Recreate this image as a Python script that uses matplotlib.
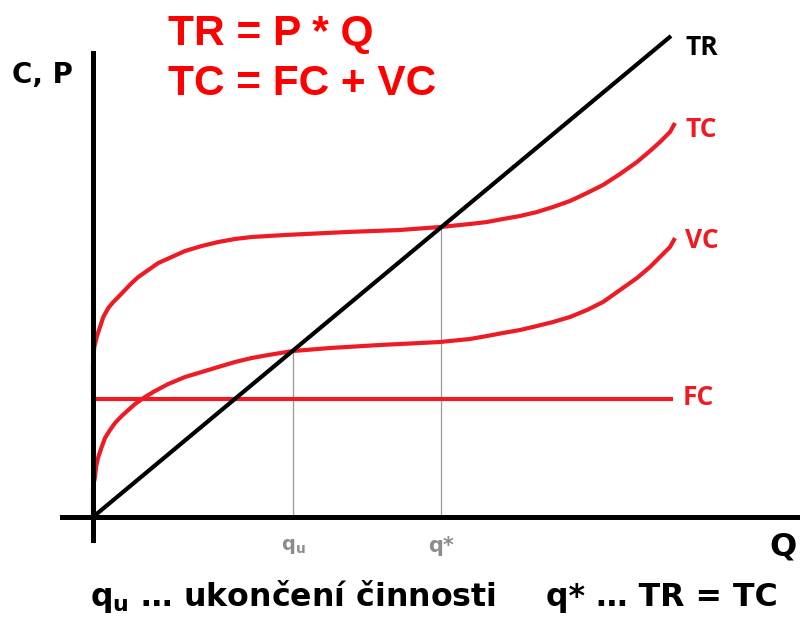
import numpy as np
import matplotlib
matplotlib.use("Agg")
import matplotlib.pyplot as plt

plt.rcParams['mathtext.fontset'] = 'dejavusans'

# values (Q and cost in the same arbitrary units)
tr_q = [0, 57.8]
tr_c = [0, 48.1]

fc_q = [0, 58.0]
fc_c = [11.8, 11.8]

vc_q = [0, 0, 0.2, 0.3, 0.53, 0.87, 1.2, 1.7, 2.2, 2.87, 3.53, 4.2, 5.2, 6.2, 7.53,
        9.2, 10.87, 12.53, 14.2, 15.87, 17.53, 20.0, 23.7, 28.7, 34.7, 37.7, 39.4,
        41.0, 42.7, 44.4, 46.0, 47.7, 49.4, 51.0, 52.7, 54.4, 55.7, 56.7, 57.7, 58.2]
vc_c = [0, 3.0, 4.0, 5.0, 6.0, 7.0, 7.9, 8.7, 9.4, 10.1, 10.7, 11.3, 12.0, 12.6, 13.3,
        14.0, 14.5, 15.0, 15.5, 15.9, 16.2, 16.6, 16.9, 17.2, 17.5, 17.8, 18.1,
        18.4, 18.7, 19.1, 19.5, 20.0, 20.7, 21.5, 22.7, 23.9, 25.0, 26.0, 27.0, 27.9]

tc_q = [0, 0, 0.13, 0.37, 0.7, 1.03, 1.53, 2.03, 2.53, 3.2, 3.87, 4.53, 5.53, 6.53,
        7.87, 9.2, 10.87, 12.53, 14.2, 15.87, 17.53, 19.2, 25.4, 30.7, 34.7, 37.7,
        39.4, 41.0, 42.7, 44.4, 46.0, 47.7, 49.4, 51.0, 52.7, 54.4, 55.7, 56.7, 57.7, 58.2]
tc_c = [11.8, 15.4, 17.0, 18.0, 19.0, 20.0, 20.9, 21.5, 22.0, 22.7, 23.4, 24.0, 24.7, 25.4,
        26.0, 26.6, 27.1, 27.5, 27.8, 28.0, 28.1, 28.2, 28.5, 28.7, 29.0, 29.3,
        29.5, 29.8, 30.1, 30.5, 31.0, 31.6, 32.4, 33.2, 34.3, 35.5, 36.6, 37.5, 38.5, 39.4]

q_u = 20.0
q_star = 34.8

red = '#ED1C24'
grey = '#999999'

fig = plt.figure(figsize=(8, 6.22), dpi=100)
ax = fig.add_axes([0, 0, 1, 1])
ax.set_xlim(-9.3, 70.7)
ax.set_ylim(-10.5, 51.7)

# axes through the origin
ax.spines['left'].set_position(('data', 0))
ax.spines['bottom'].set_position(('data', 0))
ax.spines['left'].set_bounds(-2.3, 46.4)
ax.spines['bottom'].set_bounds(-3.1, 70.7)
for s in ['left', 'bottom']:
    ax.spines[s].set_linewidth(3.6)
    ax.spines[s].set_color('black')
ax.spines['top'].set_visible(False)
ax.spines['right'].set_visible(False)
ax.set_xticks([])
ax.set_yticks([])

# helper lines down to the axis
for q in [q_u, q_star]:
    ax.vlines(q, 0, np.interp(q, tr_q, tr_c), color=grey, lw=0.9, zorder=1)

ln = dict(lw=3.0, solid_joinstyle='round', solid_capstyle='butt')
ax.plot(fc_q, fc_c, color=red, zorder=2, **ln)
ax.plot(vc_q, vc_c, color=red, zorder=2, **ln)
ax.plot(tc_q, tc_c, color=red, zorder=2, **ln)
ax.plot(tr_q, tr_c, color='black', zorder=3, **ln)

lab = dict(fontfamily='Open Sans', fontweight='bold', ha='left', va='baseline')
ax.text(59.2, 46.2, 'TR', color='black', fontsize=19, **lab)
ax.text(59.2, 38.0, 'TC', color=red, fontsize=19, **lab)
ax.text(59.2, 26.9, 'VC', color=red, fontsize=19, **lab)
ax.text(59.0, 11.2, 'FC', color=red, fontsize=19, **lab)

big = dict(fontfamily='DejaVu Sans', fontweight='bold', ha='left', va='baseline')
ax.text(-8.1, 43.4, 'C, P', color='black', fontsize=20, **big)
ax.text(67.6, -3.8, 'Q', color='black', fontsize=23, **big)

ax.text(q_u, -2.9, r'q$_\mathbf{u}$', color='#8c8c8c', fontsize=14,
        fontfamily='DejaVu Sans', fontweight='bold', ha='center', va='center')
ax.text(q_star, -2.9, 'q*', color='#8c8c8c', fontsize=15,
        fontfamily='DejaVu Sans', fontweight='bold', ha='center', va='center')

ax.text(7.5, 47.2, 'TR = P * Q', color='#FF0000', fontsize=30.5,
        fontfamily='Liberation Sans', fontweight='bold', va='baseline')
ax.text(7.5, 42.2, 'TC = FC + VC', color='#FF0000', fontsize=30.5,
        fontfamily='Liberation Sans', fontweight='bold', va='baseline')

ax.text(-0.3, -8.9, r'q$_\mathbf{u}$ … ukončení činnosti', color='black', fontsize=22.8,
        **big)
ax.text(45.3, -8.9, 'q* … TR = TC', color='black', fontsize=22.8, **big)

fig.savefig('out.png', dpi=100)
